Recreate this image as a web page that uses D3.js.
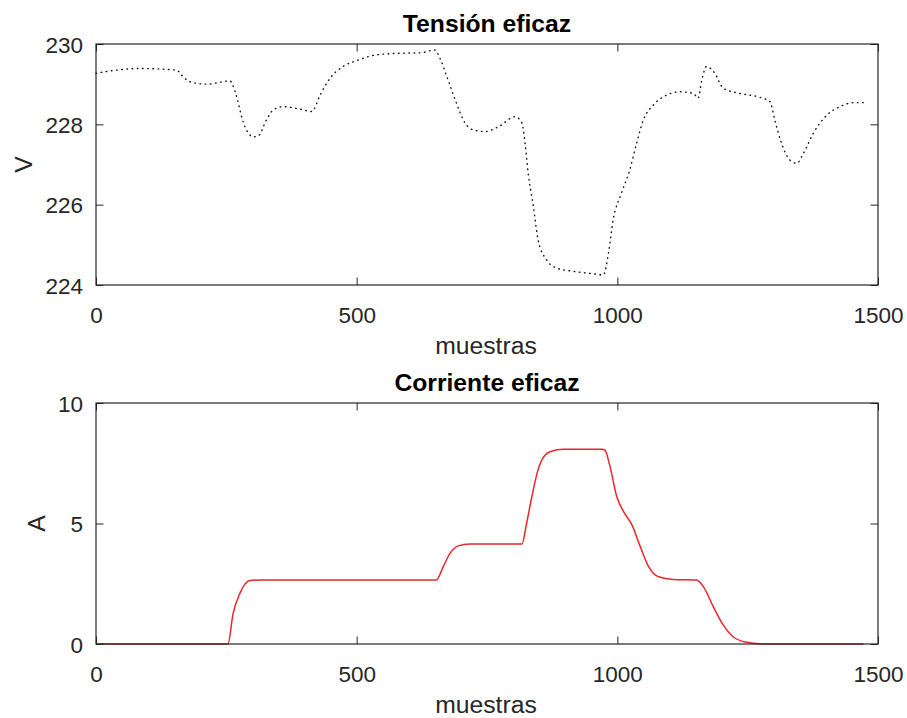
<!DOCTYPE html>
<html>
<head>
<meta charset="utf-8">
<script src="https://cdn.jsdelivr.net/npm/d3@7"></script>
<style>
  html, body { margin: 0; padding: 0; background: #ffffff; }
  svg { display: block; font-family: "Liberation Sans", Arial, Helvetica, sans-serif; }
</style>
</head>
<body>
<svg id="chart" width="907" height="718"></svg>
<script>
// Sample index (muestras) and RMS voltage readings
const voltageSamples = [0, 33, 84, 155, 164, 180, 212, 257, 267, 283, 302, 311, 327, 340, 359, 391, 414, 430, 449, 474, 503, 538, 583, 622, 650, 660, 673, 689, 708, 724, 746, 772, 804, 817, 823, 829, 839, 848, 864, 884, 916, 954, 973, 983, 992, 1008, 1024, 1037, 1050, 1069, 1095, 1120, 1146, 1155, 1162, 1171, 1187, 1203, 1235, 1274, 1293, 1302, 1315, 1331, 1344, 1357, 1376, 1402, 1427, 1453, 1472];
const voltageValues = [229.27, 229.34, 229.39, 229.35, 229.23, 229.06, 229.0, 229.08, 228.81, 228.03, 227.69, 227.71, 228.11, 228.36, 228.44, 228.38, 228.32, 228.73, 229.15, 229.44, 229.60, 229.73, 229.77, 229.78, 229.85, 229.64, 229.19, 228.61, 228.03, 227.86, 227.82, 227.94, 228.19, 228.03, 227.53, 226.78, 225.95, 225.12, 224.63, 224.42, 224.34, 224.28, 224.25, 224.79, 225.62, 226.29, 226.87, 227.53, 228.11, 228.48, 228.73, 228.81, 228.77, 228.65, 229.10, 229.44, 229.27, 228.90, 228.77, 228.67, 228.56, 228.11, 227.53, 227.11, 227.03, 227.28, 227.78, 228.23, 228.44, 228.54, 228.54];

// Sample index and RMS current readings
const currentSamples = [0, 253, 263, 276, 295, 320, 500, 653, 666, 679, 695, 717, 817, 826, 836, 846, 855, 871, 897, 970, 976, 986, 999, 1012, 1028, 1044, 1060, 1079, 1107, 1152, 1165, 1184, 1203, 1222, 1248, 1280, 1350, 1472];
const currentValues = [0, 0, 1.27, 2.10, 2.63, 2.66, 2.66, 2.66, 3.21, 3.76, 4.07, 4.15, 4.15, 5.01, 6.11, 7.08, 7.63, 7.98, 8.08, 8.08, 8.05, 7.36, 6.11, 5.49, 4.94, 4.04, 3.21, 2.79, 2.68, 2.66, 2.38, 1.55, 0.79, 0.30, 0.07, 0, 0, 0];

// Tick labels
const xTicks = [0, 500, 1000, 1500];
const voltageTicks = [224, 226, 228, 230];
const currentTicks = [0, 5, 10];

const svg = d3.select("#chart");
const ink = "#262626";
const left = 96, right = 878;

const x = d3.scaleLinear().domain([0, 1500]).range([left, right]);

function panel(opts) {
  const { top, bottom, yDomain, yTicks, title, yLabel, yLabelX, samples, values, lineStyle } = opts;
  const y = d3.scaleLinear().domain(yDomain).range([bottom, top]);
  const g = svg.append("g");

  // line
  const pts = samples.map((s, i) => [s, values[i]]);
  const line = d3.line().x(d => x(d[0])).y(d => y(d[1])).curve(d3.curveMonotoneX);
  const path = g.append("path").datum(pts)
    .attr("d", line)
    .attr("fill", "none")
    .attr("stroke", lineStyle.color)
    .attr("stroke-width", lineStyle.width)
    .attr("stroke-linejoin", "round");
  if (lineStyle.dash) path.attr("stroke-dasharray", lineStyle.dash).attr("stroke-linecap", "round");

  const tk = 7.5;
  // bottom axis with labels
  const ax = g.append("g").attr("transform", `translate(0,${bottom})`)
    .call(d3.axisBottom(x).tickValues(xTicks).tickSizeInner(-tk).tickSizeOuter(0).tickFormat(d3.format("d")));
  ax.selectAll("text").attr("y", 37.5).attr("dy", null)
    .attr("font-size", 22.5).attr("fill", ink);
  // top axis ticks only
  const axTop = g.append("g").attr("transform", `translate(0,${top})`)
    .call(d3.axisTop(x).tickValues(xTicks).tickSizeInner(-tk).tickSizeOuter(0).tickFormat(""));
  // left axis with labels
  const ay = g.append("g").attr("transform", `translate(${left},0)`)
    .call(d3.axisLeft(y).tickValues(yTicks).tickSizeInner(-tk).tickSizeOuter(0).tickPadding(13).tickFormat(d3.format("d")));
  ay.selectAll("text").attr("dy", "0.36em").attr("font-size", 22.5).attr("fill", ink);
  // right axis ticks only
  const ayR = g.append("g").attr("transform", `translate(${right},0)`)
    .call(d3.axisRight(y).tickValues(yTicks).tickSizeInner(-tk).tickSizeOuter(0).tickFormat(""));

  [ax, axTop, ay, ayR].forEach(a => {
    a.select(".domain").remove();
    a.selectAll("line").attr("stroke", ink).attr("stroke-width", 1);
    a.attr("font-family", null);
  });

  // box
  g.append("rect")
    .attr("x", left).attr("y", top)
    .attr("width", right - left).attr("height", bottom - top)
    .attr("fill", "none").attr("stroke", ink).attr("stroke-width", 1.2);

  // title
  g.append("text")
    .attr("x", (left + right) / 2).attr("y", top - 12)
    .attr("text-anchor", "middle")
    .attr("font-size", 24.7).attr("font-weight", "bold").attr("fill", "#000")
    .text(title);

  // x label
  g.append("text")
    .attr("x", 486).attr("y", bottom + 69)
    .attr("text-anchor", "middle")
    .attr("font-size", 24.7).attr("fill", ink)
    .text("muestras");

  // y label
  g.append("text")
    .attr("transform", `translate(${yLabelX},${(top + bottom) / 2}) rotate(-90)`)
    .attr("text-anchor", "middle")
    .attr("font-size", 24.7).attr("fill", ink)
    .text(yLabel);
}

panel({
  top: 44, bottom: 285, yDomain: [224, 230], yTicks: voltageTicks,
  title: "Tensión eficaz", yLabel: "V", yLabelX: 31.5,
  samples: voltageSamples, values: voltageValues,
  lineStyle: { color: "#111", width: 1.4, dash: "0.6,4.6" }
});

panel({
  top: 403, bottom: 644, yDomain: [0, 10], yTicks: currentTicks,
  title: "Corriente eficaz", yLabel: "A", yLabelX: 45,
  samples: currentSamples, values: currentValues,
  lineStyle: { color: "#e8262c", width: 1.5 }
});
</script>
</body>
</html>
